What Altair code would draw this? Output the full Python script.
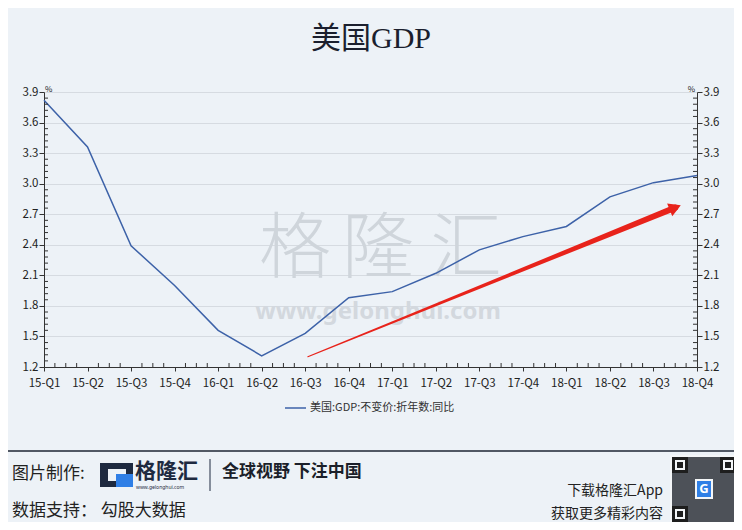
import altair as alt
import pandas as pd

# ---------------- data ----------------
quarters = ["15-Q1", "15-Q2", "15-Q3", "15-Q4", "16-Q1", "16-Q2", "16-Q3", "16-Q4",
            "17-Q1", "17-Q2", "17-Q3", "17-Q4", "18-Q1", "18-Q2", "18-Q3", "18-Q4"]
gdp_yoy = [3.82, 3.36, 2.39, 2.00, 1.56, 1.31, 1.53, 1.88,
           1.94, 2.12, 2.35, 2.48, 2.58, 2.87, 3.01, 3.08]
y_ticks = [1.2, 1.5, 1.8, 2.1, 2.4, 2.7, 3.0, 3.3, 3.6, 3.9]
series_name = "美国:GDP:不变价:折年数:同比"
title_text = "美国GDP"

# trend arrow annotation (in data space: quarter index, percent)
arrow_x = [6.06, 14.50]
arrow_y = [1.30, 2.765]
arrow_w = [1.0, 6.0]
arrow_head_x = [14.50]
arrow_head_y = [2.765]

# ---------------- layout ----------------
W, H = 653, 275
OX, OY = 44, 92            # plot origin in page pixels
BG = "#edf2f7"
FONT = "Noto Sans CJK SC"
AX = "#333333"


def px(x):
    return alt.value(x - OX)


def py(y):
    return alt.value(y - OY)


df = pd.DataFrame({"i": list(range(len(quarters))), "q": quarters, "v": gdp_yoy})
one = pd.DataFrame({"a": [0]})

xscale = alt.Scale(domain=[0, 15], nice=False, zero=False)
yscale = alt.Scale(domain=[1.2, 3.9], nice=False, zero=False)
label_expr = "[" + ",".join(f"'{q}'" for q in quarters) + "][datum.value]"

x_axis = alt.Axis(values=list(range(16)), labelExpr=label_expr, title=None, tickSize=4,
                  grid=False, labelPadding=6, labelFontSize=11.5, labelFont=FONT,
                  labelColor="#222", domainColor=AX, tickColor=AX, labelFlush=False,
                  labelOverlap=False)

y_common = dict(values=y_ticks, format=".1f", title=None, tickSize=5, labelPadding=1,
                labelFontSize=11.5, labelFont=FONT, labelColor="#222", domainColor=AX,
                tickColor=AX, labelFlush=False, labelOverlap=False)

line = alt.Chart(df).mark_line(color="#3d62a8", strokeWidth=1.5).encode(
    x=alt.X("i:Q", scale=xscale, axis=x_axis),
    y=alt.Y("v:Q", scale=yscale,
            axis=alt.Axis(orient="left", grid=True, gridColor="#d6dbe1", **y_common)),
)
right_axis = alt.Chart(df).mark_line(opacity=0).encode(
    x=alt.X("i:Q", scale=xscale, axis=None),
    y=alt.Y("v:Q", scale=yscale, axis=alt.Axis(orient="right", grid=False, **y_common)),
)

# minor ticks
y_minor = [round(1.2 + k * 0.06, 2) for k in range(46) if k % 5 != 0]
x_minor = [k / 4 for k in range(61) if k % 4 != 0]
ymin_df = pd.DataFrame({"v": y_minor})
xmin_df = pd.DataFrame({"i": x_minor})

left_minor = alt.Chart(ymin_df).mark_rule(color=AX, strokeWidth=1).encode(
    y=alt.Y("v:Q", scale=yscale, axis=None), x=alt.value(0), x2=alt.value(4))
right_minor = alt.Chart(ymin_df).mark_rule(color=AX, strokeWidth=1).encode(
    y=alt.Y("v:Q", scale=yscale, axis=None), x=alt.value(W - 4), x2=alt.value(W))
bottom_minor = alt.Chart(xmin_df).mark_rule(color=AX, strokeWidth=1).encode(
    x=alt.X("i:Q", scale=xscale, axis=None), y=alt.value(H - 4), y2=alt.value(H))

# arrow
arrow_df = pd.DataFrame({"x": arrow_x, "y": arrow_y, "w": arrow_w})
arrow = alt.Chart(arrow_df).mark_trail(color="#e8231b").encode(
    x=alt.X("x:Q", scale=xscale, axis=None),
    y=alt.Y("y:Q", scale=yscale, axis=None),
    size=alt.Size("w:Q", scale=None, legend=None),
)
head = alt.Chart(pd.DataFrame({"x": arrow_head_x, "y": arrow_head_y})).mark_point(
    shape="triangle-right", filled=True, color="#e8231b", size=190, angle=338, opacity=1
).encode(x=alt.X("x:Q", scale=xscale, axis=None), y=alt.Y("y:Q", scale=yscale, axis=None))


def txt(t, x, y, size, color="#222", weight="normal", align="left", font=FONT):
    return alt.Chart(one).mark_text(text=t, font=font, fontSize=size, fontWeight=weight,
                                    color=color, align=align, baseline="middle").encode(
        x=px(x), y=py(y))


def rect(x1, y1, x2, y2, color):
    return alt.Chart(one).mark_rect(color=color).encode(
        x=px(x1), x2=px(x2), y=py(y1), y2=py(y2))


def hrule(x1, x2, y, color, width):
    return alt.Chart(one).mark_rule(color=color, strokeWidth=width).encode(
        x=px(x1), x2=px(x2), y=py(y))


def vrule(x, y1, y2, color, width):
    return alt.Chart(one).mark_rule(color=color, strokeWidth=width).encode(
        x=px(x), y=py(y1), y2=py(y2))


# watermark
wm = [
    txt("格", 295, 250, 72, color="#cfd5db", weight=300, align="center"),
    txt("隆", 378, 250, 72, color="#cfd5db", weight=300, align="center"),
    txt("汇", 466, 250, 72, color="#cfd5db", weight=300, align="center"),
    txt("www.gelonghui.com", 378, 312, 24, color="#d3d8de", weight="bold",
        align="center", font="Noto Sans"),
]

title = txt(title_text, 371, 39, 30, color="#1b1f2e", align="center",
            font="Liberation Serif, Noto Sans CJK SC")
pct_l = txt("%", 45, 90, 8, color="#222")
pct_r = txt("%", 695, 90, 8, color="#222", align="right")

legend_line = hrule(285, 306, 408, "#3d62a8", 1.5)
legend_txt = txt(series_name, 310, 408, 11, color="#333")

# footer
footer_line = hrule(5, 736, 451, "#1c2433", 1.5)
f1 = txt("图片制作:", 12, 474, 17, color="#222")
logo_a = rect(100, 463, 133, 487, "#1e2a40")
logo_b = rect(108, 469, 126, 481, "#edf2f7")
logo_c = rect(116, 474, 133, 487, "#2f7fe6")
logo_t = txt("格隆汇", 135, 472, 21, color="#1e2a40", weight="bold")
logo_u = txt("www.gelonghui.com", 136, 487, 5, color="#1e2a40", font="Noto Sans")
sep = vrule(210, 459, 491, "#1e2a40", 1)
slogan = txt("全球视野 下注中国", 222, 472, 17, color="#1b1f2a", weight="bold")
f2 = txt("数据支持： 勾股大数据", 12, 511, 17, color="#222")
dl1 = txt("下载格隆汇App", 663, 491, 14, color="#222", align="right")
dl2 = txt("获取更多精彩内容", 663, 514, 14, color="#222", align="right")

qr = [
    rect(670, 455, 738, 522, "#f4f6f8"),
    rect(672, 457, 736, 522, "#4d5158"),
    rect(672, 457, 688, 473, "#1e1e1e"),
    rect(675, 460, 685, 470, "#f4f6f8"),
    rect(677, 462, 683, 468, "#1e1e1e"),
    rect(720, 457, 736, 473, "#1e1e1e"),
    rect(723, 460, 733, 470, "#f4f6f8"),
    rect(725, 462, 731, 468, "#1e1e1e"),
    rect(672, 506, 688, 522, "#1e1e1e"),
    rect(675, 509, 685, 519, "#f4f6f8"),
    rect(677, 511, 683, 517, "#1e1e1e"),
    rect(695, 479, 713, 499, "#f4f6f8"),
    rect(697, 481, 711, 497, "#2f7fe6"),
    txt("G", 704, 489, 13, color="white", weight="bold", align="center", font="Noto Sans"),
]

chart = alt.layer(
    *wm, line, right_axis, left_minor, right_minor, bottom_minor, arrow, head,
    title, pct_l, pct_r, legend_line, legend_txt, footer_line, f1, logo_a, logo_b, logo_c,
    logo_t, logo_u, sep, slogan, f2, dl1, dl2, *qr
).resolve_axis(y="independent", x="independent").properties(
    width=W, height=H,
    autosize=alt.AutoSizeParams(type="none"),
    padding={"left": OX - 8, "top": OY - 8, "right": 726 - (OX - 8) - W,
             "bottom": 514 - (OY - 8) - H},
    background=BG,
).configure_view(stroke=None, fill=BG)

chart.save("out.html", embed_options={"renderer": "svg", "actions": False})
